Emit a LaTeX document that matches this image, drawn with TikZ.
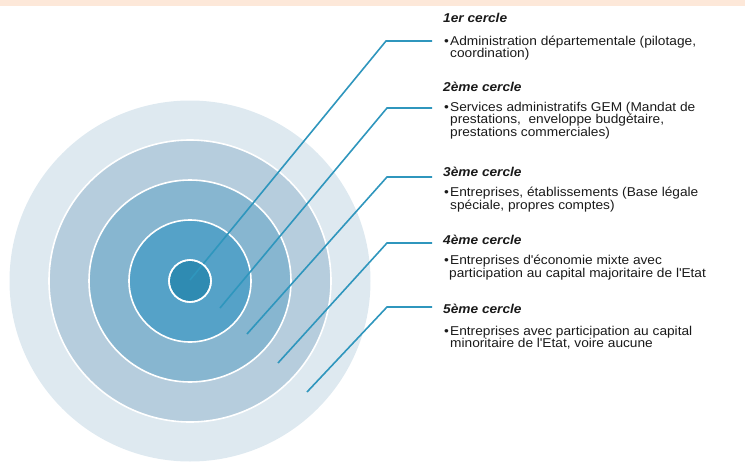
\documentclass[tikz,border=0pt]{standalone}
\usepackage{fontspec}
\setmainfont[FakeStretch=1.07]{Liberation Sans}
\definecolor{band}{HTML}{FDE8D9}
\definecolor{ringA}{HTML}{DEE9F0}
\definecolor{ringB}{HTML}{B6CDDD}
\definecolor{ringC}{HTML}{87B6D0}
\definecolor{ringD}{HTML}{55A2C8}
\definecolor{ringE}{HTML}{2F8BB2}
\definecolor{leader}{HTML}{2F96BD}
\definecolor{txt}{HTML}{1A1A1A}
\begin{document}
\begin{tikzpicture}[x=1pt,y=-1pt,
  ring/.style={draw=white,line width=1.6pt},
  leaderline/.style={draw=leader,line width=1.6pt,line join=miter},
  circtitle/.style={anchor=base west,inner sep=0pt,text=txt,font=\fontsize{12.8}{12.5}\selectfont\bfseries\itshape},
  circbody/.style={anchor=base west,inner sep=0pt,align=left,text=txt,font=\fontsize{12.8}{12.5}\selectfont}]
\useasboundingbox (0,0) rectangle (745,463);
\fill[band] (0,0) rectangle (745,6);
% concentric circles
\coordinate (c) at (190,281);
\fill[ringA] (c) circle[radius=180.5];
\path[ring,fill=ringB] (c) circle[radius=141];
\path[ring,fill=ringC] (c) circle[radius=101];
\path[ring,fill=ringD] (c) circle[radius=61];
\path[ring,fill=ringE] (c) circle[radius=21];
% leader coordinates
\coordinate (s1) at (190,280); \coordinate (k1) at (386,41);  \coordinate (e1) at (432,41);
\coordinate (s2) at (220,308); \coordinate (k2) at (387,108); \coordinate (e2) at (432,108);
\coordinate (s3) at (247,334); \coordinate (k3) at (387,177); \coordinate (e3) at (432,177);
\coordinate (s4) at (278,363); \coordinate (k4) at (387,243); \coordinate (e4) at (432,243);
\coordinate (s5) at (307,392); \coordinate (k5) at (387,307); \coordinate (e5) at (432,307);
\draw[leaderline] (s1) -- (k1) -- (e1);
\draw[leaderline] (s2) -- (k2) -- (e2);
\draw[leaderline] (s3) -- (k3) -- (e3);
\draw[leaderline] (s4) -- (k4) -- (e4);
\draw[leaderline] (s5) -- (k5) -- (e5);
% white rim of the core drawn over the first leader
\draw[ring] (c) circle[radius=21];
% texts (body nodes anchored at the baseline of their last line)
\node[circtitle] (t1) at (443,23) {1er cercle};
\node[circbody] (b1) at (444,57.5) {\makebox[6pt][l]{•}Administration départementale (pilotage,\\\hspace*{6pt}coordination)};
\node[circtitle] (t2) at (443,91) {2ème cercle};
\node[circbody] (b2) at (444,136) {\makebox[6pt][l]{•}Services administratifs GEM (Mandat de\\\hspace*{6pt}prestations,\ \ enveloppe budgétaire,\\\hspace*{6pt}prestations commerciales)};
\node[circtitle] (t3) at (443,176) {3ème cercle};
\node[circbody] (b3) at (444,209) {\makebox[6pt][l]{•}Entreprises, établissements (Base légale\\\hspace*{6pt}spéciale, propres comptes)};
\node[circtitle] (t4) at (443,244.5) {4ème cercle};
\node[circbody] (b4) at (444,277) {\makebox[6pt][l]{•}Entreprises d\textquotesingle économie mixte avec\\\hspace*{5pt}participation au capital majoritaire de l\textquotesingle Etat};
\node[circtitle] (t5) at (443,313.5) {5ème cercle};
\node[circbody] (b5) at (444,347.5) {\makebox[6pt][l]{•}Entreprises avec participation au capital\\\hspace*{6pt}minoritaire de l\textquotesingle Etat, voire aucune};
\end{tikzpicture}
\end{document}
